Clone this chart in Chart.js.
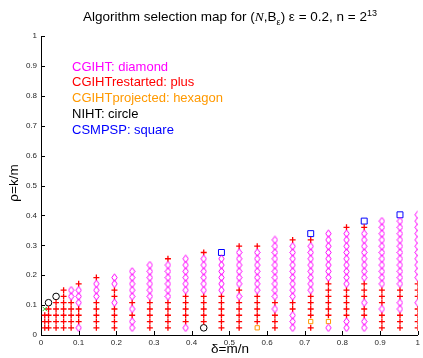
<!DOCTYPE html>
<html>
<head>
<meta charset="utf-8">
<script src="https://cdn.jsdelivr.net/npm/chart.js@4/dist/chart.umd.min.js"></script>
<style>
    html, body { margin: 0; padding: 0; background: #fff; }
</style>
</head>
<body>
<canvas id="myChart" width="423" height="358"></canvas>
<script>
// delta = m/n of each tested column
var delta = [0.01, 0.02, 0.04, 0.06, 0.08, 0.1, 0.147, 0.195, 0.242, 0.289, 0.337, 0.384, 0.432,
    0.479, 0.526, 0.574, 0.621, 0.668, 0.716, 0.763, 0.811, 0.858, 0.905, 0.953, 1.0];

// rho = k/m levels, bottom to top
var rho = [0.024, 0.045, 0.066, 0.087, 0.108, 0.129, 0.150, 0.171, 0.192, 0.213,
    0.234, 0.255, 0.276, 0.297, 0.318, 0.339, 0.360, 0.381, 0.402];

// fastest algorithm for each column, one letter per rho level from the bottom up
// d = CGIHT, p = CGIHTrestarted, h = CGIHTprojected, c = NIHT, s = CSMPSP, x = other
var winners = [
    "pppx",
    "ppppc",
    "pppppc",
    "ppppppp",
    "pppppdd",
    "dpppdddp",
    "pppppdddp",
    "ppppdppdd",
    "ddpdpddddd",
    "pppppdddddd",
    "pppppddddddp",
    "dpppppdddddd",
    "cpppppddddddp",
    "ppppppdddddds",
    "pppppdpddddddp",
    "hpppppdddddddp",
    "pppdpdddddddddd",
    "dddppdddddddddp",
    "phppppddddddddps",
    "dhppppppdddddddd",
    "ddpppppdddddddddp",
    "ddppdpppddddddddps",
    "pppdpppddddddddddd",
    "pppddppddddddddddds",
    "ppppdpppddddddddddd"
];

var algorithms = ["CGIHT", "CGIHTrestarted", "CGIHTprojected", "NIHT", "CSMPSP", "other"];
var algorithmCodes = ["d", "p", "h", "c", "s", "x"];
var legendLines = ["CGIHT: diamond", "CGIHTrestarted: plus", "CGIHTprojected: hexagon",
    "NIHT: circle", "CSMPSP: square"];
var tickValues = [0, 0.1, 0.2, 0.3, 0.4, 0.5, 0.6, 0.7, 0.8, 0.9, 1];

var fontFamily = '"Liberation Sans", Arial, Helvetica, sans-serif';
var markerColors = ["#ff00ff", "#ff0000", "#ff9900", "#000000", "#0000ff", "#22cc22"];
var markerRadius = [4, 3, 3, 3.3, 4.2, 3];
var markerWidth = [1, 1.3, 1, 1, 1, 1];

function diamondImage(color) {
    var c = document.createElement("canvas");
    c.width = 7;
    c.height = 9;
    var g = c.getContext("2d");
    g.strokeStyle = color;
    g.lineWidth = 1;
    g.beginPath();
    g.moveTo(3.5, 0.8);
    g.lineTo(6.2, 4.5);
    g.lineTo(3.5, 8.2);
    g.lineTo(0.8, 4.5);
    g.closePath();
    g.stroke();
    return c;
}

var markerStyles = [diamondImage(markerColors[0]), "cross", "rect", "circle", "rect", "crossRot"];

function pointsFor(code) {
    var pts = [];
    for (var i = 0; i < delta.length; i++) {
        for (var j = 0; j < winners[i].length; j++) {
            if (winners[i][j] === code) {
                pts.push({ x: delta[i], y: rho[j] });
            }
        }
    }
    return pts;
}

function tickLabel(v) {
    return String(Math.round(v * 10) / 10);
}

// inward tick marks, title, coloured key and axis labels
var annotations = {
    id: "annotations",
    afterDraw: function (chart) {
        var ctx = chart.ctx;
        var xs = chart.scales.x, ys = chart.scales.y;
        var area = chart.chartArea;
        ctx.save();

        ctx.strokeStyle = "#000";
        ctx.lineWidth = 1;
        ctx.beginPath();
        for (var i = 0; i < tickValues.length; i++) {
            var px = Math.round(xs.getPixelForValue(tickValues[i])) + 0.5;
            ctx.moveTo(px, area.bottom);
            ctx.lineTo(px, area.bottom - 4);
            var py = Math.round(ys.getPixelForValue(tickValues[i])) + 0.5;
            ctx.moveTo(area.left, py);
            ctx.lineTo(area.left + 4, py);
        }
        ctx.stroke();

        // title with subscript epsilon and 2^13
        var big = "13.5px " + fontFamily, small = "9px " + fontFamily;
        var parts = [
            { t: "Algorithm selection map for (", f: big, dy: 0 },
            { t: "N", f: "italic 13.5px \"Liberation Serif\", serif", dy: 0 },
            { t: ",B", f: big, dy: 0 },
            { t: "\u03b5", f: small, dy: 4 },
            { t: ") \u03b5 = 0.2, n = 2", f: big, dy: 0 },
            { t: "13", f: small, dy: -5 }
        ];
        var total = 0;
        parts.forEach(function (p) {
            ctx.font = p.f;
            p.w = ctx.measureText(p.t).width;
            total += p.w;
        });
        var x = 230 - total / 2;
        ctx.fillStyle = "#000";
        ctx.textBaseline = "alphabetic";
        ctx.textAlign = "left";
        parts.forEach(function (p) {
            ctx.font = p.f;
            ctx.fillText(p.t, x, 21 + p.dy);
            x += p.w;
        });

        ctx.font = "13px " + fontFamily;
        ctx.textBaseline = "middle";
        for (var k = 0; k < legendLines.length; k++) {
            ctx.fillStyle = markerColors[k];
            ctx.fillText(legendLines[k], 72, 67 + k * 15.8);
        }

        ctx.fillStyle = "#000";
        ctx.textAlign = "center";
        ctx.font = "13.5px " + fontFamily;
        ctx.fillText("\u03b4=m/n", 230, 349);
        ctx.translate(14, 183);
        ctx.rotate(-Math.PI / 2);
        ctx.fillText("\u03c1=k/m", 0, 0);
        ctx.restore();
    }
};

function drawChart() {
    var ctx = document.getElementById("myChart").getContext("2d");
    var datasets = [];
    for (var i = 0; i < algorithms.length; i++) {
        datasets.push({
            label: algorithms[i],
            data: pointsFor(algorithmCodes[i]),
            pointStyle: markerStyles[i],
            pointRadius: markerRadius[i],
            borderColor: markerColors[i],
            backgroundColor: "rgba(0,0,0,0)",
            borderWidth: markerWidth[i],
            showLine: false
        });
    }

    var axisTicks = {
        font: { size: 8, family: fontFamily },
        color: "#262626",
        autoSkip: false,
        maxRotation: 0,
        callback: tickLabel
    };

    new Chart(ctx, {
        type: "scatter",
        data: { datasets: datasets },
        plugins: [annotations],
        options: {
            responsive: false,
            animation: false,
            events: [],
            layout: { padding: { left: 0, right: 3, top: 36, bottom: 0 } },
            plugins: {
                legend: { display: false },
                title: { display: false },
                tooltip: { enabled: false }
            },
            scales: {
                x: {
                    type: "linear",
                    min: 0,
                    max: 1,
                    afterBuildTicks: function (s) { s.ticks = tickValues.map(function (v) { return { value: v }; }); },
                    ticks: Object.assign({ padding: 3 }, axisTicks),
                    grid: { drawOnChartArea: false, drawTicks: false },
                    border: { display: true, color: "#000", width: 1 },
                    afterFit: function (s) { s.height = 23; }
                },
                y: {
                    type: "linear",
                    min: 0,
                    max: 1,
                    afterBuildTicks: function (s) { s.ticks = tickValues.map(function (v) { return { value: v }; }); },
                    ticks: Object.assign({ padding: 4 }, axisTicks),
                    grid: { drawOnChartArea: false, drawTicks: false },
                    border: { display: true, color: "#000", width: 1 },
                    afterFit: function (s) { s.width = 41; }
                }
            }
        }
    });
}

window.onload = drawChart;
</script>
</body>
</html>
